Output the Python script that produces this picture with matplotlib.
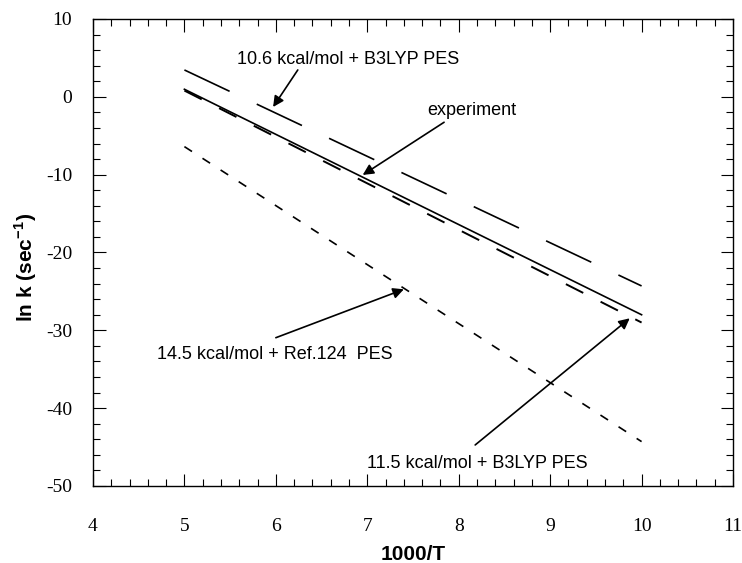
import matplotlib
matplotlib.use("Agg")
import matplotlib.pyplot as plt
from matplotlib.ticker import MultipleLocator

plt.rcParams['axes.unicode_minus'] = False
plt.rcParams['lines.scale_dashes'] = False
plt.rcParams['mathtext.fontset'] = 'custom'
plt.rcParams['mathtext.rm'] = 'Liberation Sans'
plt.rcParams['mathtext.bf'] = 'Liberation Sans:bold'

# === DATA (ln k vs 1000/T, straight Arrhenius lines) ===
inv_T = [5, 10]
lnk_b3lyp_106 = [3.45, -24.3]
lnk_experiment = [0.97, -28.0]
lnk_b3lyp_115 = [0.8, -29.0]
lnk_ref124_145 = [-6.4, -44.3]

labels = ["10.6 kcal/mol + B3LYP PES", "experiment",
          "14.5 kcal/mol + Ref.124  PES", "11.5 kcal/mol + B3LYP PES"]
text_pos = [(5.575, 4.73), (7.66, -1.78), (4.70, -33.17), (7.0, -47.09)]
arrow_tail = [(6.24, 3.45), (7.84, -3.27), (6.0, -30.95), (8.18, -44.73)]
arrow_tip = [(5.97, -1.31), (6.95, -10.04), (7.40, -24.73), (9.87, -28.46)]

# === PLOT ===
fig = plt.figure(figsize=(7.42, 5.63), dpi=100)
ax = fig.add_axes([0.1253, 0.1368, 0.8626, 0.8295])

ax.plot(inv_T, lnk_b3lyp_106, color='k', lw=1.2, linestyle=(0, (36, 21.6)))
ax.plot(inv_T, lnk_experiment, color='k', lw=1.2, linestyle='-')
ax.plot(inv_T, lnk_b3lyp_115, color='k', lw=1.4, linestyle=(0, (14, 14)))
ax.plot(inv_T, lnk_ref124_145, color='k', lw=1.2, linestyle=(0, (6.5, 9)))

for lab, tp, tail, tip in zip(labels, text_pos, arrow_tail, arrow_tip):
    ax.text(tp[0], tp[1], lab, fontsize=13, family='Liberation Sans',
            ha='left', va='center')
    ax.annotate('', xy=tip, xytext=tail,
                arrowprops=dict(arrowstyle='-|>', color='k', lw=1.2,
                                mutation_scale=16, shrinkA=0, shrinkB=0))

ax.set_xlim(4, 11)
ax.set_ylim(-50, 10)
ax.xaxis.set_major_locator(MultipleLocator(1))
ax.xaxis.set_minor_locator(MultipleLocator(0.2))
ax.yaxis.set_major_locator(MultipleLocator(10))
ax.yaxis.set_minor_locator(MultipleLocator(2))
ax.tick_params(which='both', direction='in', top=True, right=True, width=0.8)
ax.tick_params(which='major', length=9)
ax.tick_params(which='minor', length=5)
ax.tick_params(axis='x', which='major', pad=23)
ax.tick_params(axis='y', which='major', pad=15)
for lbl in ax.get_xticklabels() + ax.get_yticklabels():
    lbl.set_family('Liberation Serif')
    lbl.set_fontsize(14)
for sp in ax.spines.values():
    sp.set_linewidth(1.0)

ax.set_xlabel("1000/T", fontsize=15, fontweight='bold', family='Liberation Sans')
ax.set_ylabel(r"ln k (sec$^{\mathbf{-1}}$)", fontsize=15, fontweight='bold',
              family='Liberation Sans')
ax.xaxis.label.set_va('baseline')
ax.xaxis.set_label_coords(0.5, -0.158)
ax.yaxis.set_label_coords(-0.084, 0.467)

fig.savefig("out.png", dpi=100)
